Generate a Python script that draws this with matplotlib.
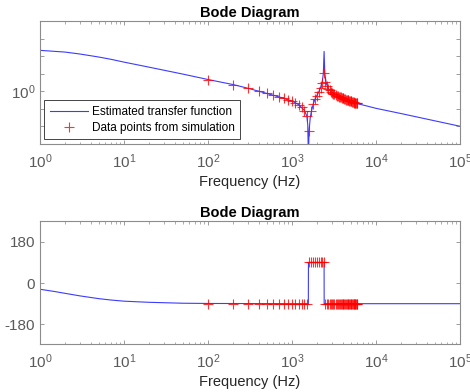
import matplotlib
matplotlib.use('Agg')
import matplotlib.pyplot as plt
import matplotlib.ticker as mticker

# estimated transfer function (log10 of magnitude)
line_freq = [1, 2, 3, 5, 7, 10, 20, 50, 100, 200, 300, 500, 700, 1000,
             1200, 1400, 1500, 1540, 1570, 1590, 1600, 1650, 1700, 1800,
             1900, 2000, 2100, 2200, 2300, 2360, 2410, 2460, 2550, 2700,
             3000, 3500, 4000, 5000, 6000, 10000, 20000, 50000, 100000]
line_mag_log10 = [2.33, 2.23, 2.12, 1.95, 1.82, 1.66, 1.37, 0.98, 0.67, 0.38,
                  0.17, -0.12, -0.32, -0.56, -0.76, -1.08, -1.4, -1.9, -4.0,
                  -2.5, -2.2, -1.5, -1.15, -0.68, -0.4, -0.2, 0.0, 0.25, 0.6,
                  1.0, 2.27, 1.0, 0.48, 0.15, -0.08, -0.27, -0.4, -0.57, -0.7,
                  -0.97, -1.27, -1.68, -1.99]

# phase of the estimated transfer function (deg)
phase_freq = [1, 1.5, 2, 3, 5, 7, 10, 15, 20, 50, 100, 1000, 1565, 1570,
              2410, 2415, 100000]
phase_deg = [-27, -37, -45, -56, -68, -74, -79, -82, -84, -88, -89, -90,
             -90, 90, 90, -90, -90]

# data points from simulation
pts_freq = [100, 200, 300, 400, 500, 600, 700, 800, 900, 1000,
            1100, 1200, 1300, 1400, 1500, 1600, 1700, 1800, 1900, 2000,
            2100, 2200, 2300, 2400, 2500, 2600, 2700, 2800, 2900, 3000,
            3100, 3200, 3300, 3400, 3500, 3600, 3700, 3800, 3900, 4000,
            4100, 4200, 4300, 4400, 4500, 4600, 4700, 4800, 4900, 5000,
            5100, 5200, 5300, 5400, 5500, 5600, 5700, 5800, 5900, 6000]
pts_mag_log10 = [0.66, 0.38, 0.17, 0.0, -0.12, -0.22, -0.3, -0.4, -0.48, -0.56,
                 -0.66, -0.78, -0.92, -1.1, -1.4, -2.27, -1.15, -0.72, -0.45, -0.25,
                 -0.05, 0.2, 0.5, 1.05, 0.55, 0.32, 0.15, 0.05, -0.04, -0.1,
                 -0.14, -0.18, -0.21, -0.24, -0.27, -0.3, -0.32, -0.35, -0.37, -0.39,
                 -0.41, -0.43, -0.45, -0.47, -0.49, -0.5, -0.52, -0.54, -0.55, -0.57,
                 -0.58, -0.6, -0.61, -0.62, -0.64, -0.65, -0.66, -0.67, -0.68, -0.69]
pts_phase = [-90] * 15 + [90] * 9 + [-90] * 36

line_mag = [10 ** v for v in line_mag_log10]
pts_mag = [10 ** v for v in pts_mag_log10]

plt.rcParams['font.family'] = ['Liberation Sans', 'DejaVu Sans']
plt.rcParams['axes.unicode_minus'] = False
grey = '#8c8c8c'
label_grey = '#5a5a5a'
blue = '#3c3cff'

fig = plt.figure(figsize=(4.7, 3.92), dpi=100)
ax1 = fig.add_axes([40 / 470, 1 - 144 / 392, 420 / 470, 123 / 392])
ax2 = fig.add_axes([40 / 470, 1 - 344 / 392, 420 / 470, 123 / 392])


def style_axes(ax):
    for s in ax.spines.values():
        s.set_color(grey)
        s.set_linewidth(0.8)
    ax.tick_params(which='both', direction='in', top=True, right=True,
                   color=grey, labelcolor=label_grey, labelsize=11)
    ax.tick_params(which='major', length=3, width=0.6)
    ax.tick_params(which='minor', length=1.8, width=0.5)
    ax.tick_params(axis='x', which='major', pad=6)
    ax.set_xscale('log')
    ax.set_xlim(1, 1e5)
    ax.xaxis.set_major_locator(mticker.LogLocator(base=10, numticks=10))
    ax.xaxis.set_minor_locator(mticker.LogLocator(base=10, subs=range(2, 10), numticks=10))
    ax.set_xlabel('Frequency (Hz)', fontsize=10.5, color='#262626', labelpad=3)
    ax.set_title('Bode Diagram', fontsize=10.5, fontweight='bold', pad=3)


# magnitude
ax1.plot(line_freq, line_mag, color=blue, lw=0.8, label='Estimated transfer function')
ax1.plot(pts_freq, pts_mag, '+', color='red', ms=7, mew=0.8, alpha=0.8,
         label='Data points from simulation')
style_axes(ax1)
ax1.set_yscale('log')
ax1.set_ylim(1e-3, 1e4)
ax1.set_yticks([1e-3, 1e-2, 1e-1, 1e0, 1e1, 1e2, 1e3, 1e4])
ax1.set_yticklabels(['', '', '', r'$\mathdefault{10^{0}}$', '', '', '', ''])
ax1.yaxis.set_minor_locator(mticker.NullLocator())
leg = ax1.legend(loc='lower left', bbox_to_anchor=(0.005, 0.02), fontsize=8.5,
                 fancybox=False, framealpha=1, edgecolor='#262626',
                 handlelength=3.2, handletextpad=0.4, borderpad=0.45,
                 labelspacing=0.35, borderaxespad=0.2)
leg.get_frame().set_linewidth(0.6)

# phase
ax2.plot(phase_freq, phase_deg, color=blue, lw=0.8)
ax2.plot(pts_freq, pts_phase, '+', color='red', ms=7, mew=0.8, alpha=0.8)
style_axes(ax2)
ax2.set_ylim(-266, 271)
ax2.set_yticks([-180, 0, 180])

plt.savefig('out.png', dpi=100)
plt.close()
